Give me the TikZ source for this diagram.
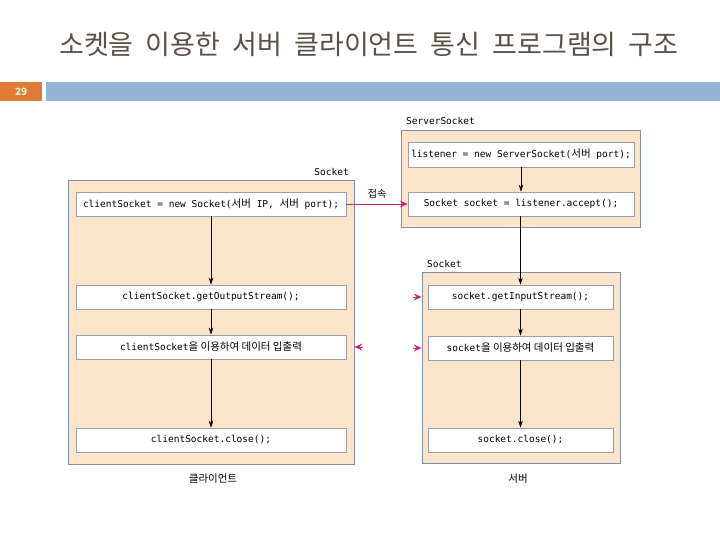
\documentclass[tikz,border=0pt]{standalone}
\usepackage{fontspec}
\setmainfont{Noto Sans CJK KR}
\newfontfamily\codefont{DejaVu Sans Mono}
\newfontfamily\kr{Noto Sans CJK KR}
\usetikzlibrary{arrows.meta}
\definecolor{peach}{HTML}{FCE4CB}
\definecolor{outerc}{HTML}{7E8FA6}
\definecolor{innerc}{HTML}{9AA0A8}
\definecolor{magc}{HTML}{CC2288}
\definecolor{orangec}{HTML}{E07B39}
\definecolor{bluec}{HTML}{94B4D4}
\definecolor{titlec}{HTML}{5D5048}
\definecolor{numc}{HTML}{FFF3D6}
\newcommand{\krc}[1]{{\fontsize{10.5}{11}\selectfont\kr #1}}
\begin{document}
\begin{tikzpicture}[x=1pt,y=-1pt,
  outerbox/.style={draw=outerc, fill=peach, line width=0.8pt, inner sep=0pt},
  codebox/.style={draw=innerc, fill=white, line width=0.7pt, inner sep=0pt, minimum height=24pt,
    font=\fontsize{9.5}{11}\selectfont\codefont},
  lbl/.style={inner sep=0pt, font=\fontsize{9.5}{11}\selectfont\codefont},
  captext/.style={inner sep=0pt, font=\fontsize{10.5}{12}\selectfont\kr},
  flow/.style={draw=black, line width=0.6pt, -{Stealth[length=7pt,width=4.5pt]}},
  magarr/.style={draw=magc, line width=0.8pt, -{Stealth[length=8pt,width=7pt,inset=3pt]}}]
\useasboundingbox (0,0) rectangle (720,540);
\fill[white] (0,0) rectangle (720,540);
% title
\node[inner sep=0pt, text=titlec, font=\fontsize{27}{30}\selectfont\kr] (title) at (369,44)
  {소켓을\hspace{0.45em}이용한\hspace{0.45em}서버\hspace{0.45em}클라이언트\hspace{0.45em}통신\hspace{0.45em}프로그램의\hspace{0.45em}구조};
% header bar
\node[fill=orangec, inner sep=0pt, minimum width=42pt, minimum height=19pt, anchor=north west,
  text=numc, font=\fontsize{10}{11}\selectfont\bfseries] (num) at (0,82) {29};
\node[fill=bluec, inner sep=0pt, minimum width=674pt, minimum height=19pt, anchor=north west] (bar) at (46,82) {};

% client side
\node[outerbox, minimum width=286pt, minimum height=284pt] (cout) at (211,322) {};
\node[lbl, anchor=south east] (clbl) at (349,176) {Socket};
\node[codebox, minimum width=270pt] (cb1) at (211,204) {clientSocket = new Socket(\krc{서버} IP, \krc{서버} port);};
\node[codebox, minimum width=270pt] (cb2) at (211,297) {clientSocket.getOutputStream();};
\node[codebox, minimum width=270pt] (cb3) at (211,347) {clientSocket\krc{을 이용하여 데이터 입출력}};
\node[codebox, minimum width=270pt] (cb4) at (211,440) {clientSocket.close();};
\node[captext] (ccap) at (213,479) {클라이언트};

% server top
\node[outerbox, minimum width=239pt, minimum height=97pt] (stop) at (520.5,178.5) {};
\node[lbl, anchor=south west] (slbl) at (406,125) {ServerSocket};
\node[codebox, minimum width=226pt, minimum height=25pt] (sa) at (521,154.5) {listener = new ServerSocket(\krc{서버} port);};
\node[codebox, minimum width=226pt] (sb) at (521,204) {Socket socket = listener.accept();};

% server lower
\node[outerbox, minimum width=198pt, minimum height=191pt] (sout) at (521,367.5) {};
\node[lbl, anchor=south west] (s2lbl) at (427,268) {Socket};
\node[codebox, minimum width=185pt] (sc1) at (520.5,297) {socket.getInputStream();};
\node[codebox, minimum width=185pt] (sc2) at (520.5,348) {socket\krc{을 이용하여 데이터 입출력}};
\node[codebox, minimum width=185pt] (sc3) at (520.5,440) {socket.close();};
\node[captext] (scap) at (518,479) {서버};

% flow arrows
\draw[flow] (cb1) -- (cb2);
\draw[flow] (cb2) -- (cb3);
\draw[flow] (cb3) -- (cb4);
\draw[flow] (sa) -- (sb);
\draw[flow] (sb.south -| sc1) -- (sc1);
\draw[flow] (sc1) -- (sc2);
\draw[flow] (sc2) -- (sc3);

% connection arrow
\draw[magarr] (cb1.east) -- node[captext, above=5pt, text=black, font=\fontsize{10}{11}\selectfont\kr] (conn) {접속} (sb.west);
% stubs
\draw[magarr] ([xshift=9pt]cout.east |- cb3) -- (cout.east |- cb3);
\draw[magarr] ([xshift=-9pt]sout.west |- sc1) -- (sout.west |- sc1);
\draw[magarr] ([xshift=-9pt]sout.west |- sc2) -- (sout.west |- sc2);
\end{tikzpicture}
\end{document}
